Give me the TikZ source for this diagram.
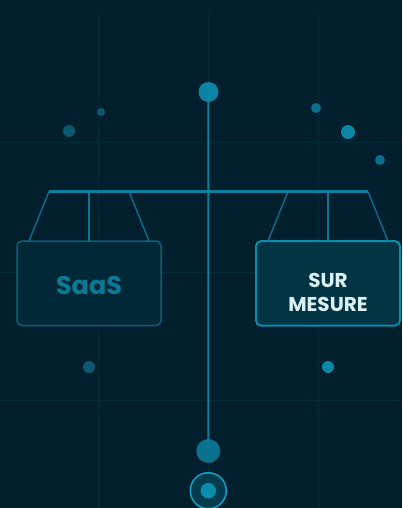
\documentclass[tikz,border=0pt]{standalone}
\usepackage{fontspec}
\setmainfont{Poppins}
\usetikzlibrary{calc}
\definecolor{bg}{HTML}{011F2C}
\definecolor{gridc}{HTML}{062B38}
\definecolor{stemc}{HTML}{0D7F9D}
\definecolor{hangc}{HTML}{0C7592}
\definecolor{topc}{HTML}{0B8AA9}
\definecolor{lfill}{HTML}{012A39}
\definecolor{lstroke}{HTML}{0C5F77}
\definecolor{rfill}{HTML}{023847}
\definecolor{rstroke}{HTML}{0D8BAB}
\definecolor{saasc}{HTML}{0D7A95}
\definecolor{surc}{HTML}{DBF1F5}
\definecolor{dimc}{HTML}{0B5A72}
\definecolor{midc}{HTML}{0B6F8C}
\definecolor{brightc}{HTML}{0D87A6}
\definecolor{botc}{HTML}{0B7A96}
\definecolor{ringc}{HTML}{0EA3C4}
\definecolor{ringfill}{HTML}{023C4E}
\begin{document}
\begin{tikzpicture}[x=1pt,y=-1pt,
  gridline/.style={draw=gridc,line width=0.7pt},
  dot/.style={circle,inner sep=0pt,minimum size=#1},
  hanger/.style={draw=hangc,line width=1.3pt},
  boxL/.style={draw=lstroke,fill=lfill,fill opacity=0.9,line width=1.5pt,rounded corners=5pt,minimum width=144pt,minimum height=84.5pt,inner sep=0pt},
  boxR/.style={draw=rstroke,fill=rfill,fill opacity=0.9,line width=2pt,rounded corners=5pt,minimum width=144pt,minimum height=84.5pt,inner sep=0pt},
  labelL/.style={text=saasc,font=\fontsize{25.5}{30}\selectfont\bfseries,inner sep=0pt},
  labelR/.style={text=surc,font=\fontsize{20}{23.8}\selectfont\bfseries,align=center,inner sep=0pt}
]
\useasboundingbox (0,0) rectangle (402,508);
\fill[bg] (0,0) rectangle (402,508);
% grid
\foreach \gx in {98.5,208.3,318} \draw[gridline] (\gx,12) -- (\gx,508);
\foreach \gy in {142,272,400.7} \draw[gridline] (0,\gy) -- (402,\gy);
% decorative dots
\node[dot=12pt,fill=dimc] (d1) at (69,131) {};
\node[dot=8pt,fill=dimc] (d2) at (101,112) {};
\node[dot=10pt,fill=midc] (d3) at (316,108) {};
\node[dot=14pt,fill=brightc] (d4) at (348,132) {};
\node[dot=10pt,fill=midc] (d5) at (380,160) {};
\node[dot=12pt,fill=dimc] (d6) at (89,367) {};
\node[dot=12pt,fill=brightc] (d7) at (328,367) {};
% beam and hangers
\coordinate (bL) at (49,191.5);
\coordinate (bR) at (368,191.5);
\coordinate (bLm) at (89,191.5);
\coordinate (bLi) at (129,191.5);
\coordinate (bRi) at (288,191.5);
\coordinate (bRm) at (328,191.5);
\node[boxL] (saas) at (89,283.3) {};
\node[boxR] (sur) at (328,283.3) {};
\coordinate (fL1) at (29,241);
\coordinate (fL2) at (89,241);
\coordinate (fL3) at (149,241);
\coordinate (fR1) at (268,241);
\coordinate (fR2) at (328,241);
\coordinate (fR3) at (388,241);
\draw[hanger] (bL) -- (fL1);
\draw[hanger] (bLm) -- (fL2);
\draw[hanger] (bLi) -- (fL3);
\draw[hanger] (bRi) -- (fR1);
\draw[hanger] (bRm) -- (fR2);
\draw[hanger] (bR) -- (fR3);
\draw[stemc,line width=3pt] (bL) -- (bR);
% stem
\node[dot=20pt] (top) at (208.5,92) {};
\node[dot=24pt] (bot) at (208.3,451) {};
\draw[stemc,line width=2pt] (top.center) -- (bot.center);
\fill[topc,opacity=0.95] (top) circle (10pt);
\fill[botc,opacity=0.92] (bot) circle (12pt);
% ring
\node[dot=36pt,draw=ringc,fill=ringfill,line width=1.5pt] (ring) at (208.3,490.7) {};
\node[dot=15.5pt,fill=rstroke] (ringdot) at (ring.center) {};
% labels
\node[labelL] (saasT) at (89,286) {SaaS};
\node[labelR] (surT) at (328,292.2) {SUR\\MESURE};
\end{tikzpicture}
\end{document}
